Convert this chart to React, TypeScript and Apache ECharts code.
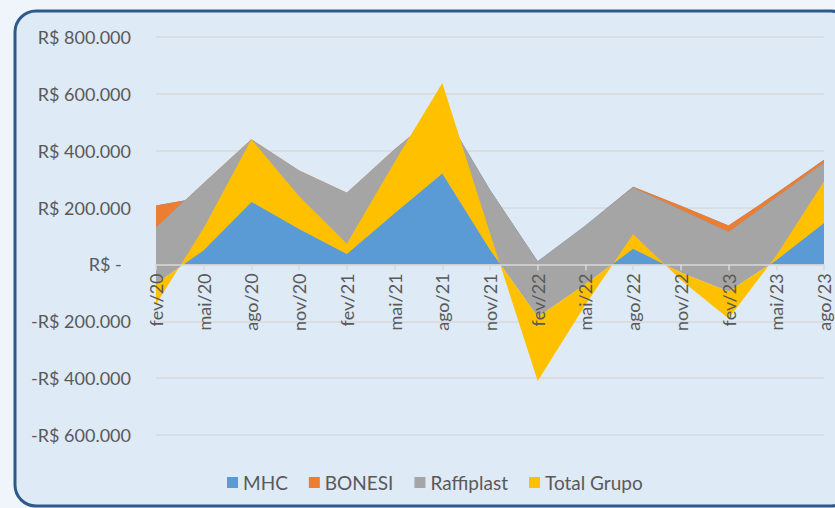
import React, { useEffect, useRef } from "react";
import * as echarts from "echarts";

const categories = ["fev/20", "mai/20", "ago/20", "nov/20", "fev/21", "mai/21", "ago/21", "nov/21", "fev/22", "mai/22", "ago/22", "nov/22", "fev/23", "mai/23", "ago/23"];
const mhc = [207000, 237000, 435000, 325000, 248000, 402000, 545000, 263000, 11000, 137000, 273000, 206000, 137000, 250000, 368000];
const bonesi = [-76000, 49000, 5000, 5000, 4000, 3000, -2000, -1000, -1000, 0, -2000, -14000, -23000, -14000, -10000];
const raffiplast = [-199000, -236000, -220000, -205000, -215000, -225000, -223000, -210000, -195000, -207000, -216000, -220000, -209000, -221000, -212000];
const totalGrupo = [-72000, 78000, 220000, 115000, 36000, 180000, 318000, 58000, -225000, -72000, 52000, -27000, -95000, 16000, 146000];
const seriesNames = ["MHC", "BONESI", "Raffiplast", "Total Grupo"];
const seriesColors = ["#5B9BD5", "#ED7D31", "#A5A5A5", "#FFC000"];
const yTicks = { min: -600000, max: 800000, interval: 200000 };

const FONT = "Lato, 'Open Sans', sans-serif";

function fmtBRL(v: number): string {
  if (v === 0) return "R$ -  ";
  const s = Math.abs(v).toString().replace(/\B(?=(\d{3})+(?!\d))/g, ".");
  return (v < 0 ? "-" : "") + "R$ " + s;
}

const GRID_TOP = 37;
const GRID_BOTTOM_Y = 435;

export default function App() {
  const ref = useRef<HTMLDivElement>(null);
  useEffect(() => {
    if (!ref.current) return;
    const chart = echarts.init(ref.current, undefined, { renderer: "svg" });
    const values = [mhc, bonesi, raffiplast, totalGrupo];
    const zeroY = GRID_TOP + (GRID_BOTTOM_Y - GRID_TOP) * (yTicks.max / (yTicks.max - yTicks.min));
    chart.setOption({
      animation: false,
      backgroundColor: "#F0F5FB",
      textStyle: { fontFamily: FONT },
      graphic: [
        {
          type: "rect",
          z: -10,
          shape: { x: 15, y: 11, width: 837, height: 495, r: 21 },
          style: { fill: "#DEEAF6", stroke: "#2C5A8A", lineWidth: 3 },
        },
      ],
      grid: { left: 156, right: 11, top: GRID_TOP, bottom: 508 - GRID_BOTTOM_Y, containLabel: false },
      legend: {
        data: seriesNames,
        left: 222,
        top: 468,
        icon: "rect",
        itemWidth: 11,
        itemHeight: 11,
        itemGap: 21,
        textStyle: { fontFamily: FONT, fontSize: 19, color: "#595959" },
      },
      xAxis: {
        type: "category",
        data: categories,
        boundaryGap: false,
        position: "bottom",
        offset: -(GRID_BOTTOM_Y - zeroY),
        axisLine: { onZero: false, lineStyle: { color: "#D9D9D9", width: 1.5 } },
        axisTick: { show: true, length: 6, lineStyle: { color: "#D9D9D9", width: 1.5 } },
        axisLabel: { rotate: 90, margin: 9, fontFamily: FONT, fontSize: 18, color: "#595959" },
        splitLine: { show: false },
        z: 5,
      },
      yAxis: {
        type: "value",
        min: yTicks.min,
        max: yTicks.max,
        interval: yTicks.interval,
        axisLine: { show: false },
        axisTick: { show: false },
        axisLabel: { margin: 25, fontFamily: FONT, fontSize: 18, color: "#595959", formatter: fmtBRL },
        splitLine: { lineStyle: { color: "#D9D9D9", width: 1.5 } },
      },
      series: seriesNames.map((name, i) => ({
        name,
        type: "line",
        stack: "all",
        stackStrategy: "all",
        data: values[i],
        symbol: "none",
        color: seriesColors[i],
        lineStyle: { width: 0, opacity: 0 },
        areaStyle: { color: seriesColors[i], opacity: 1 },
        emphasis: { disabled: true },
      })),
    });
    return () => chart.dispose();
  }, []);
  return (
    <div style={{ position: "fixed", left: 0, top: 0, width: 835, height: 508 }}>
      <div ref={ref} style={{ width: 835, height: 508 }} />
    </div>
  );
}
